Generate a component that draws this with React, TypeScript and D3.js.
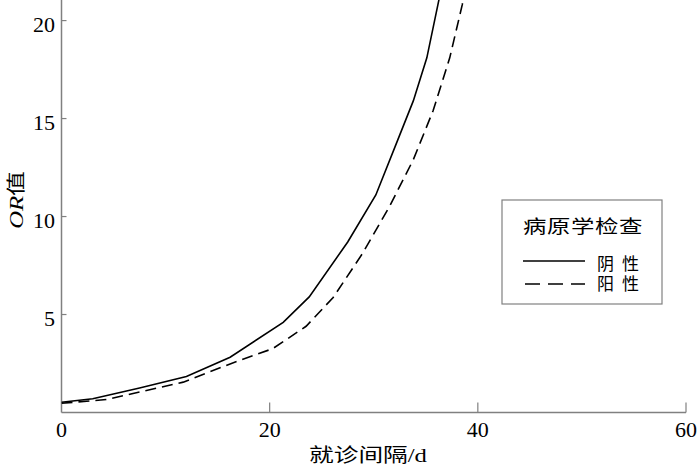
import React from "react";
import * as d3 from "d3";

const negX = [0, 3, 7.5, 12, 16.2, 21.3, 23.8, 27.5, 30.2, 32.3, 33.8, 35.1, 36.2, 37.2];
const negY = [0.52, 0.7, 1.25, 1.84, 2.82, 4.6, 5.9, 8.7, 11.1, 13.9, 15.9, 18.1, 20.9, 23.5];
const posX = [0, 4.3, 11.7, 16.2, 20.3, 23.5, 26.1, 28.9, 31.5, 33.8, 35.7, 37.3, 38.5, 39.5];
const posY = [0.47, 0.66, 1.55, 2.48, 3.26, 4.4, 5.87, 8.1, 10.5, 12.9, 15.4, 18.1, 20.8, 23.3];
const xTicks = [0, 20, 40, 60];
const yTicks = [5, 10, 15, 20];
const legendTitle = "病原学检查";
const seriesNames = ["阴性", "阳性"];

export default function App() {
  const W = 700, H = 467;
  const left = 61.5, right = 686, top = 0, bottom = 412.5;
  const x = d3.scaleLinear().domain([0, 60]).range([left, right]);
  const y = d3.scaleLinear().domain([0, 21.05]).range([bottom, top]);
  const line = d3.line<[number, number]>().x(d => x(d[0])).y(d => y(d[1])).curve(d3.curveLinear);
  const neg = negX.map((v, i) => [v, negY[i]] as [number, number]);
  const pos = posX.map((v, i) => [v, posY[i]] as [number, number]);
  const axisColor = "#808080";
  const serif = "'Liberation Serif', 'Times New Roman', serif";
  const cjk = "'Noto Sans CJK SC', sans-serif";
  return (
    <svg width={W} height={H} style={{ position: "absolute", left: 0, top: 0, background: "#fff" }}>
      <defs>
        <clipPath id="plot">
          <rect x={left} y={top} width={right - left} height={bottom - top} />
        </clipPath>
      </defs>
      {/* axes */}
      <line x1={left} y1={top} x2={left} y2={bottom} stroke={axisColor} strokeWidth={1.5} />
      <line x1={left} y1={bottom} x2={right} y2={bottom} stroke={axisColor} strokeWidth={1.5} />
      {xTicks.slice(1).map(t => (
        <line key={"xt" + t} x1={x(t)} x2={x(t)} y1={bottom} y2={bottom - 10} stroke={axisColor} strokeWidth={1.2} />
      ))}
      {yTicks.map(t => (
        <line key={"yt" + t} x1={left} x2={left + 5} y1={y(t)} y2={y(t)} stroke={axisColor} strokeWidth={1.2} />
      ))}
      {xTicks.map(t => (
        <text key={"xl" + t} x={x(t)} y={437} textAnchor="middle" fontFamily={serif} fontSize={22} fill="#000">{t}</text>
      ))}
      {yTicks.map(t => (
        <text key={"yl" + t} x={55} y={y(t) + 11} textAnchor="end" fontFamily={serif} fontSize={22} fill="#000">{t}</text>
      ))}
      <text transform="translate(368,462) scale(1.3,1)" textAnchor="middle" fontSize={19} fill="#000">
        <tspan fontFamily={cjk}>就诊间隔</tspan>
        <tspan fontFamily={serif}>/d</tspan>
      </text>
      <text transform="translate(23,200) rotate(-90) scale(1.3,1)" textAnchor="middle" fontSize={19} fill="#000">
        <tspan fontFamily={serif} fontStyle="italic">OR</tspan>
        <tspan fontFamily={cjk}>值</tspan>
      </text>
      {/* lines */}
      <g clipPath="url(#plot)">
        <path d={line(neg) || ""} fill="none" stroke="#000" strokeWidth={1.6} />
        <path d={line(pos) || ""} fill="none" stroke="#000" strokeWidth={1.6} strokeDasharray="11,6" />
      </g>
      {/* legend */}
      <rect x={502} y={200} width={160} height={104} fill="#fff" stroke={axisColor} strokeWidth={1.2} />
      <text transform="translate(583,233) scale(1.3,1)" textAnchor="middle" fontFamily={cjk} fontSize={18} fill="#000" letterSpacing={0.5}>{legendTitle}</text>
      <line x1={523} x2={585} y1={261} y2={261} stroke="#000" strokeWidth={1.6} />
      <line x1={525} x2={585} y1={284} y2={284} stroke="#000" strokeWidth={1.6} strokeDasharray="15,8" />
      <text x={597} y={270} fontFamily={cjk} fontSize={17} fill="#000" letterSpacing={8}>{seriesNames[0]}</text>
      <text x={597} y={290} fontFamily={cjk} fontSize={17} fill="#000" letterSpacing={8}>{seriesNames[1]}</text>
    </svg>
  );
}
